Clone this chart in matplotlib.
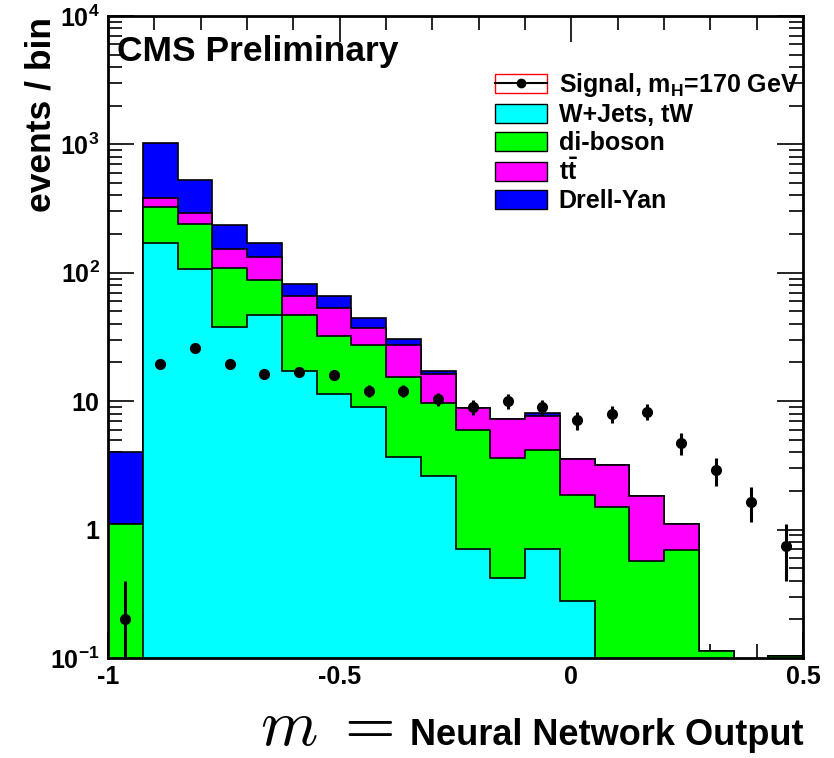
import numpy as np
import matplotlib
matplotlib.use('Agg')
import matplotlib.pyplot as plt
from matplotlib.patches import Patch
from matplotlib.lines import Line2D
from matplotlib.legend_handler import HandlerTuple
from matplotlib.ticker import FixedLocator, FixedFormatter

plt.rcParams['font.family'] = ['Liberation Sans', 'DejaVu Sans']
plt.rcParams['font.weight'] = 'bold'
plt.rcParams['mathtext.fontset'] = 'custom'
plt.rcParams['mathtext.rm'] = 'Liberation Sans:bold'
plt.rcParams['mathtext.bf'] = 'Liberation Sans:bold'
plt.rcParams['mathtext.it'] = 'Liberation Sans:bold'
plt.rcParams['mathtext.default'] = 'rm'

# Bin edges of the neural network output
edges = np.linspace(-1.0, 0.5, 21)

# Background components (events / bin)
wjets = [0, 169, 107, 38, 47, 17.1, 11.3, 9.0, 3.7, 2.6,
         0.71, 0.42, 0.70, 0.28, 0, 0, 0, 0, 0, 0]
diboson = [1.1, 154, 133, 70, 41, 29.9, 20.7, 18.4, 11.7, 7.1,
           5.3, 3.16, 3.5, 1.57, 1.5, 0.57, 0.69, 0.114, 0, 0.103]
ttbar = [0, 57, 50, 45, 44, 19, 21.6, 10, 11.8, 6.5,
         2.9, 3.7, 3.45, 1.71, 1.71, 1.27, 0.41, 0, 0, 0]
drellyan = [2.9, 645, 241, 81, 37, 15.5, 12.4, 7.4, 3.5, 0.9,
            0, 0, 0.45, 0, 0, 0, 0, 0, 0, 0]

# Signal, mH = 170 GeV
signal = [0.2, 19.3, 26.1, 19.6, 16.4, 17.0, 15.9, 12.1, 12.0, 10.3,
          9.0, 10.0, 9.06, 7.1, 7.9, 8.3, 4.7, 2.9, 1.65, 0.75]
signal_err = [0.199, 1.3, 1.5, 1.3, 1.2, 1.2, 1.2, 1.3, 1.3, 1.2,
              1.2, 1.3, 1.2, 1.15, 1.2, 1.2, 0.9, 0.7, 0.5, 0.35]

names = ['W+Jets, tW', 'di-boson', r't$\bar{\mathrm{t}}$', 'Drell-Yan']
colors = ['#00ffff', '#00ff00', '#ff00ff', '#0000ff']

fig = plt.figure(figsize=(8.34, 7.58), dpi=100)
ax = fig.add_axes([0.1295, 0.132, 0.8335, 0.847])

stack = np.cumsum([wjets, diboson, ttbar, drellyan], axis=0)
# draw from the top of the stack down so each layer covers the next
for i in range(3, -1, -1):
    vals = np.where(stack[i] > 0, stack[i], 1e-3)
    ax.stairs(vals, edges, baseline=1e-3, fill=True,
              facecolor=colors[i], edgecolor='black', linewidth=1.2, zorder=2)

centers = 0.5 * (edges[:-1] + edges[1:])
ax.errorbar(centers, signal, yerr=signal_err, fmt='o', color='black',
            markersize=7, elinewidth=2.2, capsize=0, zorder=4)

ax.set_yscale('log')
ax.set_xlim(-1.0, 0.5)
ax.set_ylim(0.1, 1e4)

ax.set_xticks([-1, -0.5, 0, 0.5])
ax.set_xticklabels(['-1', '-0.5', '0', '0.5'])
ax.xaxis.set_minor_locator(FixedLocator(np.arange(-0.9, 0.45, 0.1)))
ax.yaxis.set_major_locator(FixedLocator([0.1, 1, 10, 100, 1000, 10000]))
ax.yaxis.set_major_formatter(FixedFormatter(
    [r'$10^{-1}$', '1', '10', r'$10^{2}$', r'$10^{3}$', r'$10^{4}$']))
minors = [m * 10.0 ** e for e in range(-1, 4) for m in range(2, 10)]
ax.yaxis.set_minor_locator(FixedLocator(minors))
ax.yaxis.set_minor_formatter(FixedFormatter([''] * len(minors)))

ax.tick_params(which='both', direction='in', top=True, right=True,
               labelsize=18, width=1.2)
ax.tick_params(which='major', length=19)
ax.tick_params(which='minor', length=10)
ax.tick_params(axis='x', pad=5)
ax.tick_params(axis='y', pad=6)
for sp in ax.spines.values():
    sp.set_linewidth(2)
    sp.set_zorder(5)

ax.set_ylabel('events / bin', fontsize=25.5, fontweight='bold', loc='top')
ax.yaxis.set_label_coords(-0.073, 0.998)

ax.text(0.013, 0.97, 'CMS Preliminary', transform=ax.transAxes,
        fontsize=25.5, fontweight='bold', va='top', ha='left')

fig.text(0.963, 0.017, 'Neural Network Output', fontsize=26,
         fontweight='bold', ha='right', va='baseline')
fig.text(0.312, 0.017, r'$\mathit{m}\;=$', fontsize=47, math_fontfamily='cm',
         ha='left', va='baseline')

sig_handle = (Patch(facecolor='white', edgecolor='red', linewidth=1),
              Line2D([], [], color='black', marker='o', markersize=6, linewidth=1.5))
handles = [sig_handle] + [Patch(facecolor=colors[i], edgecolor='black', linewidth=1)
                          for i in range(4)]
labels = [r'Signal, m$_{\mathrm{H}}$=170 GeV'] + names
ax.legend(handles, labels, loc='upper left', bbox_to_anchor=(0.542, 0.93),
          frameon=False, fontsize=18, handlelength=2.1, handleheight=0.8,
          labelspacing=0.16, handletextpad=0.45, borderaxespad=0,
          handler_map={tuple: HandlerTuple(ndivide=1)})

fig.savefig('out.png', dpi=100)
